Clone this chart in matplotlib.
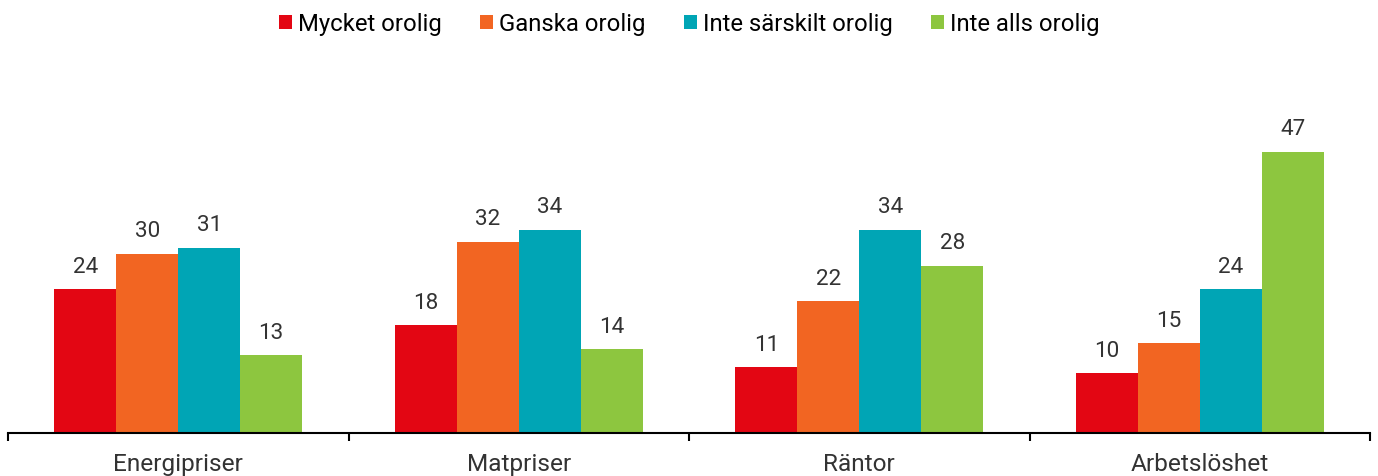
import matplotlib
matplotlib.use("Agg")
import matplotlib.pyplot as plt
import numpy as np
from matplotlib.patches import Patch

plt.rcParams['font.family'] = ['Roboto', 'DejaVu Sans']

categories = ["Energipriser", "Matpriser", "Räntor", "Arbetslöshet"]
series_names = ["Mycket orolig", "Ganska orolig", "Inte särskilt orolig", "Inte alls orolig"]
mycket = [24, 18, 11, 10]
ganska = [30, 32, 22, 15]
inte_sarskilt = [31, 34, 34, 24]
inte_alls = [13, 14, 28, 47]
colors = ["#E30613", "#F26522", "#00A5B5", "#8DC63F"]

W, H = 1378, 477
fig = plt.figure(figsize=(W / 100, H / 100), dpi=100)
left, right = 8, 1370
bottom_px = 434
top_px = 434 - 50 * 5.98
ax = fig.add_axes([left / W, 1 - bottom_px / H, (right - left) / W, (bottom_px - top_px) / H])

x = np.arange(len(categories))
bw = 0.182
all_series = [mycket, ganska, inte_sarskilt, inte_alls]
for i, (vals, c) in enumerate(zip(all_series, colors)):
    pos = x + (i - 1.5) * bw
    ax.bar(pos, vals, width=bw, color=c, edgecolor='none')
    for xp, v in zip(pos, vals):
        ax.annotate(f"{v}", (xp, v), xytext=(0, 9), textcoords='offset points',
                    ha='center', va='bottom', fontsize=16.2, color='#333333')

ax.set_xlim(-0.5, 3.5)
ax.set_ylim(0, 50)
for s in ['top', 'right', 'left']:
    ax.spines[s].set_visible(False)
ax.spines['bottom'].set_linewidth(1.5)
ax.spines['bottom'].set_color('black')
ax.set_yticks([])
ax.set_xticks(np.arange(-0.5, 4.0, 1.0))
ax.set_xticklabels([])
ax.tick_params(axis='x', which='major', direction='out', length=6, width=1.5, color='black')
ax.set_xticks(x, minor=True)
ax.set_xticklabels(categories, minor=True, fontsize=17.6, color='#333333')
ax.tick_params(axis='x', which='minor', length=0, pad=13.5)

handles = [Patch(facecolor=c, edgecolor='none') for c in colors]
fig.legend(handles, series_names, loc='center', bbox_to_anchor=(0.5, 1 - 25 / H), ncol=4,
           frameon=False, fontsize=17.2, handlelength=0.55, handleheight=0.55,
           handletextpad=0.25, columnspacing=1.6)

fig.savefig("out.png", dpi=100)
